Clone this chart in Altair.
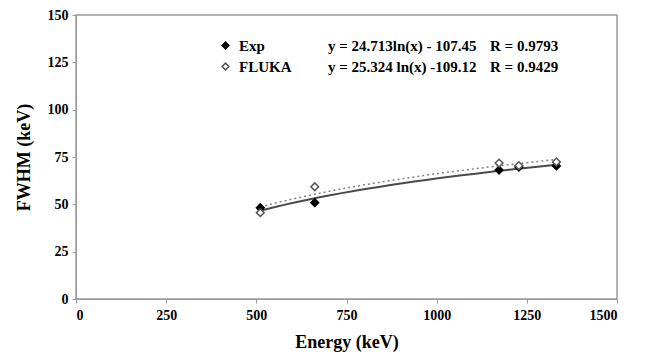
import altair as alt
import pandas as pd

# data
exp_energy = [511, 662, 1173, 1228, 1332]
exp_fwhm = [48.2, 50.9, 68.1, 69.7, 70.3]
fluka_energy = [511, 662, 1173, 1228, 1332]
fluka_fwhm = [45.6, 59.3, 71.8, 70.4, 72.4]

series_names = ["Exp", "FLUKA"]
equations = ["y = 24.713ln(x) - 107.45", "y = 25.324 ln(x) -109.12"]
r_values = ["R = 0.9793", "R = 0.9429"]

x_ticks = [0, 250, 500, 750, 1000, 1250, 1500]
y_ticks = [0, 25, 50, 75, 100, 125, 150]

df = pd.DataFrame({
    "energy": exp_energy + fluka_energy,
    "fwhm": exp_fwhm + fluka_fwhm,
    "series": ["Exp"] * len(exp_energy) + ["FLUKA"] * len(fluka_energy),
})

FONT = "Liberation Serif"
x_scale = alt.Scale(domain=[0, 1500], nice=False)
y_scale = alt.Scale(domain=[0, 150], nice=False)

x_enc = alt.X("energy:Q", scale=x_scale,
              axis=alt.Axis(values=x_ticks, format="d", title="Energy (keV)", grid=False,
                            domainColor="#9a9a9a", tickColor="#9a9a9a", tickSize=4,
                            labelFont=FONT, labelFontWeight="bold", labelFontSize=14,
                            labelColor="black", labelPadding=5,
                            titleFont=FONT, titleFontWeight="bold", titleFontSize=18,
                            titleColor="black", titlePadding=11))
y_enc = alt.Y("fwhm:Q", scale=y_scale,
              axis=alt.Axis(values=y_ticks, format="d", title="FWHM (keV)", grid=False,
                            domainColor="#9a9a9a", tickColor="#9a9a9a", tickSize=4,
                            labelFont=FONT, labelFontWeight="bold", labelFontSize=14,
                            labelColor="black", labelPadding=4,
                            titleFont=FONT, titleFontWeight="bold", titleFontSize=18,
                            titleColor="black", titlePadding=14))

base = alt.Chart(df)

fit_exp = base.transform_filter(alt.datum.series == "Exp").transform_regression(
    "energy", "fwhm", method="log").mark_line(color="#4a4a4a", strokeWidth=2).encode(
    x=x_enc, y=y_enc)
fit_fluka = base.transform_filter(alt.datum.series == "FLUKA").transform_regression(
    "energy", "fwhm", method="log").mark_line(
    color="#808080", strokeWidth=1.5, strokeDash=[2, 3]).encode(x=x_enc, y=y_enc)

points = base.mark_point(shape="diamond", size=60, strokeWidth=1.5, opacity=1).encode(
    x=x_enc, y=y_enc,
    fill=alt.Fill("series:N", scale=alt.Scale(domain=series_names, range=["black", "white"]),
                  legend=alt.Legend(orient="none", legendX=142, legendY=23, title=None,
                                    symbolType="diamond", symbolSize=45,
                                    symbolStrokeWidth=1.5,
                                    labelFont=FONT, labelFontWeight="bold",
                                    labelFontSize=15, labelColor="black",
                                    rowPadding=5, labelOffset=6)),
    stroke=alt.Stroke("series:N", scale=alt.Scale(domain=series_names, range=["black", "#555555"])),
)

leg_df = pd.DataFrame({"eq": equations, "r": r_values, "row": [0, 1]})
row_y = [31, 52]
text_layers = []
for i in range(2):
    sub = alt.Chart(leg_df).transform_filter(alt.datum.row == i)
    text_layers.append(sub.mark_text(
        font=FONT, fontWeight="bold", fontSize=15, align="left", baseline="middle", color="black"
    ).encode(x=alt.value(252), y=alt.value(row_y[i]), text="eq:N"))
    text_layers.append(sub.mark_text(
        font=FONT, fontWeight="bold", fontSize=15, align="left", baseline="middle", color="black"
    ).encode(x=alt.value(414), y=alt.value(row_y[i]), text="r:N"))

chart = alt.layer(fit_exp, fit_fluka, points, *text_layers).properties(
    width=541, height=284,
    autosize=alt.AutoSizeParams(type="none"),
    padding={"left": 68, "top": 7, "right": 21, "bottom": 53},
    background="white",
).configure_view(stroke="#9a9a9a", strokeWidth=1.5)

chart.save("out.html", embed_options={"renderer": "svg", "actions": False})
